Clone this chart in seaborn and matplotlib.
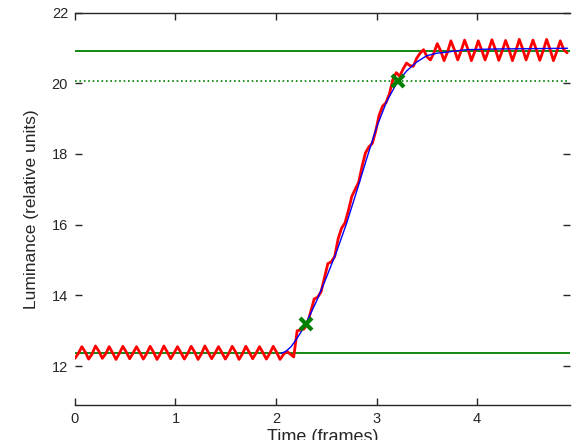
import matplotlib
matplotlib.use('Agg')
import matplotlib.pyplot as plt
import numpy as np
import pandas as pd
import seaborn as sns

# ----------------------------------------------------------------------------- 
#         Data
# -----------------------------------------------------------------------------
frame_step = 0.034  # sampling interval of the measured trace [frames]

# measured luminance trace (red)
red_lum = [
    12.22, 12.36, 12.55, 12.40, 12.20, 12.34, 12.57, 12.42, 12.22, 12.35,
    12.55, 12.38, 12.19, 12.36, 12.56, 12.40, 12.21, 12.37, 12.55, 12.38,
    12.20, 12.36, 12.56, 12.39, 12.19, 12.35, 12.57, 12.40, 12.21, 12.37,
    12.55, 12.38, 12.20, 12.36, 12.56, 12.40, 12.19, 12.35, 12.57, 12.39,
    12.21, 12.37, 12.55, 12.38, 12.20, 12.36, 12.56, 12.40, 12.19, 12.35,
    12.56, 12.39, 12.21, 12.37, 12.55, 12.38, 12.20, 12.36, 12.56, 12.39,
    12.19, 12.33, 12.42, 12.34, 12.26,
    13.00, 13.02, 13.05, 13.20, 13.55, 13.90, 13.95, 14.10, 14.50, 14.90,
    14.95, 15.10, 15.60, 15.90, 16.05, 16.40, 16.80, 17.00, 17.20, 17.65,
    18.03, 18.20, 18.30, 18.65, 19.10, 19.35, 19.45, 19.70, 20.10, 20.30,
    20.20, 20.40, 20.57, 20.50, 20.48, 20.71, 20.85,
    20.95, 20.75, 20.66, 20.85, 21.12, 20.92, 20.64, 20.88, 21.20, 20.95,
    20.66, 20.92, 21.22, 20.96, 20.64, 20.90, 21.20, 20.94, 20.66, 20.93,
    21.23, 20.96, 20.65, 20.91, 21.21, 20.95, 20.64, 20.92, 21.24, 20.97,
    20.66, 20.93, 21.22, 20.95, 20.65, 20.92, 21.24, 20.96, 20.64, 20.90,
    21.20, 20.95, 20.86,
]

# fitted transition (blue)
blue_t = [2.05, 2.10, 2.15, 2.20, 2.25, 2.30, 2.40, 2.50, 2.60, 2.70, 2.80,
          2.90, 3.00, 3.10, 3.20, 3.30, 3.40, 3.50, 3.60, 3.70, 3.80, 3.90,
          4.20, 4.60, 4.90]
blue_lum = [12.36, 12.42, 12.55, 12.75, 12.97, 13.22, 13.82, 14.50, 15.22,
            16.02, 16.92, 17.85, 18.75, 19.48, 20.00, 20.35, 20.60, 20.78,
            20.85, 20.88, 20.92, 20.95, 20.97, 20.98, 20.99]

base_level = 12.36   # lower steady state
top_level = 20.92    # upper steady state
level_90 = 20.06     # 90 % threshold
cross_t = [2.30, 3.21]
cross_lum = [13.18, 20.06]

x_ticks = [0, 1, 2, 3, 4]
y_ticks = [12, 14, 16, 18, 20, 22]

trace = pd.DataFrame({'t': np.arange(len(red_lum)) * frame_step,
                      'lum': red_lum})
fit = pd.DataFrame({'t': blue_t, 'lum': blue_lum})

# ----------------------------------------------------------------------------- 
#         Plot
# -----------------------------------------------------------------------------
sns.set_style('ticks')
plt.rcParams['font.family'] = ['Liberation Sans', 'DejaVu Sans']

fig = plt.figure(figsize=(5.79, 4.40), dpi=100)
ax = fig.add_axes([0.1295, 0.0795, 0.855, 0.892])

ax.axhline(top_level, color='#008000', lw=1.3, zorder=1)
ax.axhline(base_level, color='#008000', lw=1.3, zorder=1)
ax.hlines(level_90, 0, trace['t'].max(), color='#008000', lw=1.2,
          linestyles=':', zorder=1)

sns.lineplot(data=trace, x='t', y='lum', color='#ff0000', lw=2.0,
             ax=ax, zorder=2)
sns.lineplot(data=fit, x='t', y='lum', color='#0000ff', lw=1.0,
             ax=ax, zorder=3)
ax.plot(cross_t, cross_lum, ls='none', marker='x', ms=8, mew=3,
        color='#008000', zorder=4)

ax.set(xlim=(0, 4.925), ylim=(10.9, 22),
       xticks=x_ticks, yticks=y_ticks)
ax.set_xlabel('Time (frames)', fontsize=13, labelpad=2)
ax.set_ylabel('Luminance (relative units)', fontsize=12.5, labelpad=9)
ax.tick_params(direction='in', length=5, width=1, labelsize=10.5,
               top=True, right=True, pad=5)
for side in ['left', 'right']:
    ax.spines[side].set_visible(False)
for side in ['top', 'bottom']:
    ax.spines[side].set_linewidth(1.0)

fig.savefig('out.png', dpi=100)
